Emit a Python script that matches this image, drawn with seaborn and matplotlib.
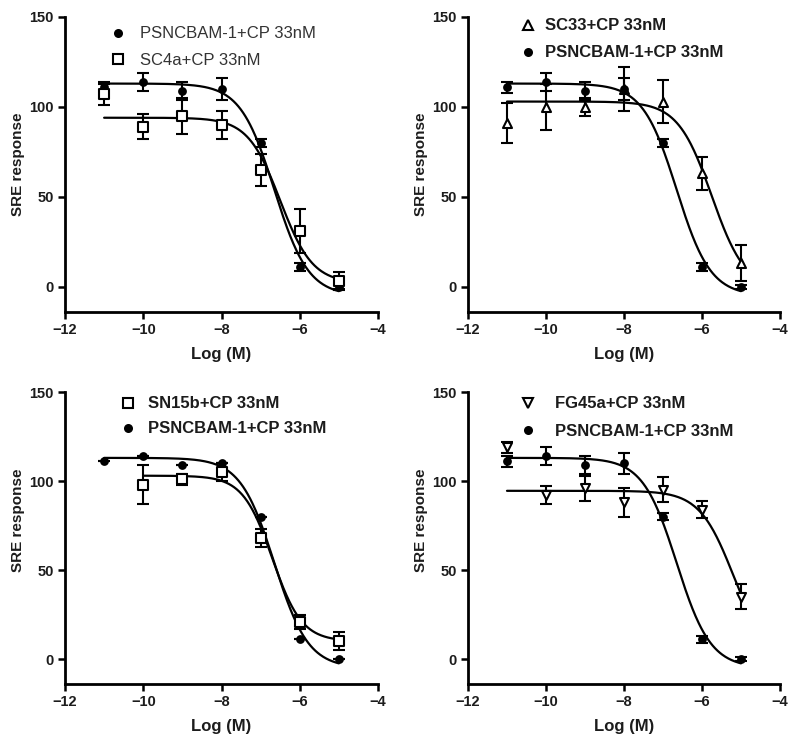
import numpy as np
import pandas as pd
import matplotlib
matplotlib.use("Agg")
import matplotlib.pyplot as plt
from matplotlib.lines import Line2D
import seaborn as sns

# ---------------- data ----------------
log_conc = [-11, -10, -9, -8, -7, -6, -5]

# reference compound (same in every panel)
psn_mean = [111, 114, 109, 110, 80, 11, 0]
psn_err = [3, 5, 5, 6, 2, 2, 1]
psn_fit = [113, -5, -6.65, 1.0]          # top, bottom, logIC50, hill

sc4a_mean = [107, 89, 95, 90, 65, 31, 3]
sc4a_err = [6, 7, 10, 8, 9, 12, 5]
sc4a_fit = [94, 2, -6.5, 1.05]

sc33_mean = [91, 100, 100, 110, 103, 63, 13]
sc33_err = [11, 13, 5, 12, 12, 9, 10]
sc33_fit = [103, -2, -5.75, 1.0]

sn15b_conc = [-10, -9, -8, -7, -6, -5]
sn15b_mean = [98, 101, 105, 68, 21, 10]
sn15b_err = [11, 3, 5, 5, 4, 5]
sn15b_fit = [103, 10, -6.7, 1.15]

fg45a_mean = [119, 92, 96, 88, 95, 84, 35]
fg45a_err = [3, 5, 7, 8, 7, 5, 7]
fg45a_fit = [94.5, 0, -5.2, 1.0]

psn_label = "PSNCBAM-1+CP 33nM"
xticks = [-12, -10, -8, -6, -4]
yticks = [0, 50, 100, 150]


def logistic(x, p):
    top, bottom, c, h = p
    return bottom + (top - bottom) / (1 + 10 ** (h * (x - c)))


sns.set_style("ticks")
plt.rcParams["font.family"] = ["Liberation Sans", "DejaVu Sans"]
TXT = "#1c1c1c"

fig = plt.figure(figsize=(8, 7.48), dpi=100)
W, H = 800, 748


def ax_at(l, r, t, b):
    return fig.add_axes([l / W, 1 - b / H, (r - l) / W, (b - t) / H])


def draw_series(ax, conc, mean, err, fit, marker, filled, label):
    xs = np.linspace(conc[0], conc[-1], 300)
    curve = pd.DataFrame({"x": xs, "y": logistic(xs, fit)})
    sns.lineplot(data=curve, x="x", y="y", ax=ax, color="black", lw=1.6,
                 zorder=2, legend=False)
    ax.errorbar(conc, mean, yerr=err, fmt="none", ecolor="black",
                elinewidth=1.5, capsize=4, capthick=1.5, zorder=3)
    pts = pd.DataFrame({"x": conc, "y": mean})
    sns.scatterplot(data=pts, x="x", y="y", ax=ax, marker=marker,
                    s=40 if filled else 42,
                    color="black" if filled else "white",
                    edgecolor="black", linewidth=0 if filled else 1.5,
                    zorder=4, legend=False)
    return Line2D([], [], ls="none", marker=marker, ms=6.5,
                  mfc="black" if filled else "white", mec="black",
                  mew=0 if filled else 1.5, label=label)


def style(ax, lab_y):
    ax.set_xlim(-12, -4)
    ax.set_ylim(-14, 150)
    ax.set_xticks(xticks)
    ax.set_yticks(yticks)
    for s in ["top", "right"]:
        ax.spines[s].set_visible(False)
    for s in ["left", "bottom"]:
        ax.spines[s].set_linewidth(2)
        ax.spines[s].set_color("black")
    ax.tick_params(width=1.8, length=5, pad=3, colors="black",
                   labelcolor=TXT, labelsize=10.5)
    for t in ax.get_xticklabels() + ax.get_yticklabels():
        t.set_fontweight("bold")
    ax.set_xlabel("Log (M)", fontsize=12, fontweight="bold", color=TXT,
                  labelpad=7)
    ax.set_ylabel("SRE response", fontsize=11, fontweight="bold", color=TXT)
    ax.yaxis.set_label_coords(-0.128, lab_y)


def legend(ax, handles, marker_px, text_px, row1_px, ax_l, ax_r, ax_t, ax_b,
           weight, spacing):
    fs = 12
    fpx = fs * 100 / 72
    hl = 1.0
    pad = (text_px - marker_px - 0.5 * hl * fpx) / fpx
    left = marker_px - 0.5 * hl * fpx
    top = row1_px - 0.5 * fpx * 1.15 + 3
    leg = ax.legend(handles=handles, loc="upper left",
                    bbox_to_anchor=((left - ax_l) / (ax_r - ax_l),
                                    (ax_b - top) / (ax_b - ax_t)),
                    frameon=False, borderpad=0, borderaxespad=0,
                    handlelength=hl, handletextpad=pad, labelspacing=spacing,
                    prop={"size": fs, "weight": weight})
    for t in leg.get_texts():
        t.set_color("#333333" if weight == "normal" else TXT)


# ---- panel 1 ----
L1, R1, T1, B1 = 65, 378, 17, 312
ax1 = ax_at(L1, R1, T1, B1)
h_psn = draw_series(ax1, log_conc, psn_mean, psn_err, psn_fit, "o", True, psn_label)
h_sc4a = draw_series(ax1, log_conc, sc4a_mean, sc4a_err, sc4a_fit, "s", False, "SC4a+CP 33nM")
style(ax1, 0.5)
legend(ax1, [h_psn, h_sc4a], 118, 140, 33, L1, R1, T1, B1, "normal", 0.7)

# ---- panel 2 ----
L2, R2 = 468, 780
ax2 = ax_at(L2, R2, T1, B1)
h_sc33 = draw_series(ax2, log_conc, sc33_mean, sc33_err, sc33_fit, "^", False, "SC33+CP 33nM")
h_psn2 = draw_series(ax2, log_conc, psn_mean, psn_err, psn_fit, "o", True, psn_label)
style(ax2, 0.5)
legend(ax2, [h_sc33, h_psn2], 528, 545, 25, L2, R2, T1, B1, "bold", 0.72)

# ---- panel 3 ----
T3, B3 = 392, 684
ax3 = ax_at(L1, R1, T3, B3)
h_sn = draw_series(ax3, sn15b_conc, sn15b_mean, sn15b_err, sn15b_fit, "s", False, "SN15b+CP 33nM")
h_psn3 = draw_series(ax3, log_conc, psn_mean, [0] * 7, psn_fit, "o", True, psn_label)
style(ax3, 0.56)
legend(ax3, [h_sn, h_psn3], 128, 148, 403, L1, R1, T3, B3, "bold", 0.6)

# ---- panel 4 ----
ax4 = ax_at(L2, R2, T3, B3)
h_fg = draw_series(ax4, log_conc, fg45a_mean, fg45a_err, fg45a_fit, "v", False, "FG45a+CP 33nM")
h_psn4 = draw_series(ax4, log_conc, psn_mean, psn_err, psn_fit, "o", True, psn_label)
style(ax4, 0.56)
legend(ax4, [h_fg, h_psn4], 528, 555, 403, L2, R2, T3, B3, "bold", 0.75)

fig.savefig("out.png", dpi=100)
